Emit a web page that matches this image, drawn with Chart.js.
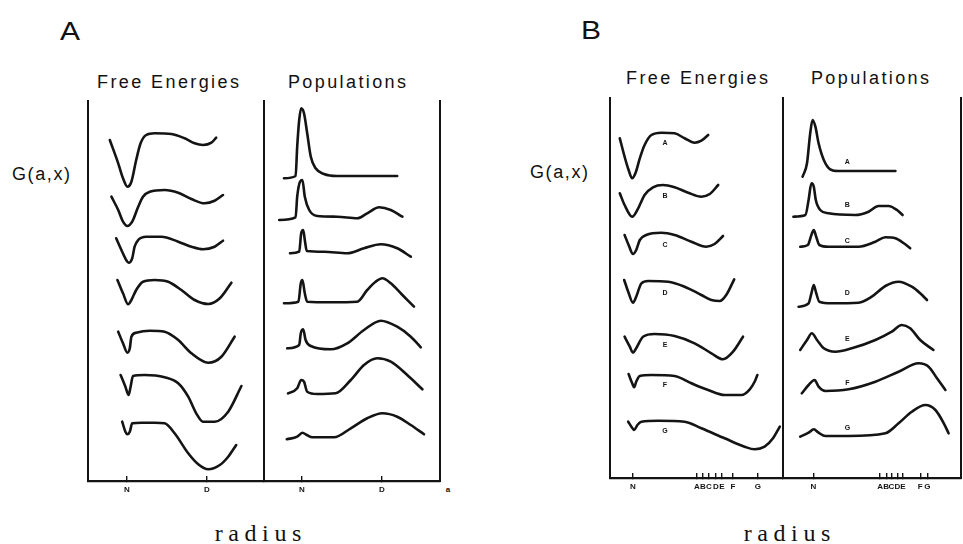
<!DOCTYPE html>
<html>
<head>
<meta charset="utf-8">
<script src="https://cdn.jsdelivr.net/npm/chart.js@4.4.1/dist/chart.umd.min.js"></script>
<style>
  html, body { margin: 0; padding: 0; background: #fff; }
  #wrap { position: relative; width: 963px; height: 544px; overflow: hidden; background: #fff; }
  canvas { position: absolute; }
  .t { position: absolute; transform: translate(-50%, -50%); white-space: nowrap; color: #111;
       font-family: "Liberation Sans", Arial, sans-serif; line-height: 1; }
  .big { font-size: 25px; }
  .head { font-size: 18px; letter-spacing: 2.4px; padding-left: 2.4px; }
  .gax { font-size: 18px; letter-spacing: 1.6px; padding-left: 1.6px; }
  .rad { font-family: "Liberation Serif", "Times New Roman", serif; font-size: 24px; letter-spacing: 5.6px; padding-left: 5.6px; }
  .unit { font-size: 8px; font-weight: bold; }
</style>
</head>
<body>
<div id="wrap">
  <div class="t big" style="left:70px;top:31px;transform:translate(-50%,-50%) scaleX(1.2)">A</div>
  <div class="t big" style="left:591px;top:30px;transform:translate(-50%,-50%) scaleX(1.2)">B</div>
  <div class="t head" style="left:168px;top:82px">Free Energies</div>
  <div class="t head" style="left:347px;top:82px">Populations</div>
  <div class="t head" style="left:697px;top:78px">Free Energies</div>
  <div class="t head" style="left:870px;top:78px">Populations</div>
  <div class="t gax" style="left:41px;top:174px">G(a,x)</div>
  <div class="t gax" style="left:559px;top:172px">G(a,x)</div>
  <div class="t rad" style="left:258px;top:533px">radius</div>
  <div class="t rad" style="left:787px;top:533px">radius</div>
  <div class="t unit" style="left:448px;top:490px">a</div>
  <canvas id="cAfe"></canvas>
  <canvas id="cApop"></canvas>
  <canvas id="cBfe"></canvas>
  <canvas id="cBpop"></canvas>
</div>
<script>
// ---------------- DATA ----------------
// radius in units where N = 1 (and D = 3 in panel A); G and populations in arbitrary units
// Panel A, free energies (relative to each curve's plateau)
const feA1 = [[0.57,-0.6],[0.78,-2.93],[0.9,-4.43],[1.01,-5.27],[1.11,-4.77],[1.23,-2.6],[1.34,-0.93],[1.48,-0.1],[1.69,0.07],[2.11,0],[2.44,-0.43],[2.69,-0.93],[2.9,-1.1],[3.11,-0.87],[3.23,-0.37]];
const feA2 = [[0.61,-0.57],[0.78,-1.9],[0.9,-3.07],[1.01,-3.5],[1.13,-3.07],[1.28,-1.57],[1.4,-0.57],[1.57,-0.07],[1.94,0.1],[2.28,-0.17],[2.61,-0.8],[2.94,-1.23],[3.19,-0.97],[3.4,-0.4]];
const feA3 = [[0.73,-0.13],[0.86,-1.3],[0.98,-2.3],[1.04,-2.57],[1.13,-2.13],[1.19,-0.97],[1.28,-0.3],[1.48,0.03],[1.86,0.03],[2.28,-0.47],[2.61,-0.97],[2.9,-1.23],[3.19,-0.97],[3.4,-0.37]];
const feA4 = [[0.76,0],[0.9,-1.33],[1.03,-2.43],[1.11,-2.0],[1.23,-1.0],[1.4,-0.17],[1.69,0],[2.03,-0.17],[2.36,-1.0],[2.69,-2.0],[3.03,-2.4],[3.32,-1.83],[3.61,-0.27]];
const feA5 = [[0.78,-0.07],[0.9,-1.23],[1.01,-2.17],[1.07,-1.73],[1.11,-0.57],[1.23,-0.17],[1.57,0.03],[1.94,-0.07],[2.28,-0.9],[2.61,-2.23],[3.03,-3.17],[3.36,-2.57],[3.69,-0.57]];
const feA6 = [[0.84,0],[0.96,-1.17],[1.04,-2.0],[1.09,-1.17],[1.15,-0.1],[1.44,0],[1.94,-0.23],[2.28,-0.83],[2.53,-2.17],[2.73,-3.83],[2.9,-4.67],[3.19,-4.67],[3.53,-3.67],[3.86,-1.1]];
const feA7 = [[0.88,0.13],[0.96,-0.87],[1.01,-1.13],[1.07,-0.87],[1.13,-0.03],[1.36,0.03],[1.69,0.03],[1.94,-0.03],[2.19,-1.03],[2.53,-3.03],[2.78,-4.13],[3.03,-4.63],[3.32,-4.2],[3.53,-3.37],[3.73,-2.2]];
// Panel A, populations (relative to each curve's baseline)
const popA1 = [[0.55,-0.23],[0.84,0],[0.88,2.93],[0.93,5.6],[0.98,6.77],[1.05,6.27],[1.13,4.27],[1.22,1.93],[1.34,0.77],[1.55,0.2],[1.88,0],[3.38,0]];
const popA2 = [[0.43,-0.35],[0.84,-0.08],[0.88,1.98],[0.95,3.48],[1.01,3.65],[1.07,1.98],[1.18,0.65],[1.38,0.05],[1.88,-0.02],[2.38,-0.18],[2.63,0.32],[2.93,0.92],[3.22,0.65],[3.51,-0.02]];
const popA3 = [[0.7,-0.13],[0.93,0.03],[0.98,1.87],[1.03,2.2],[1.07,1.2],[1.12,0.1],[1.55,0.03],[2.13,-0.13],[2.55,0.37],[2.97,0.77],[3.38,0.37],[3.72,-0.47]];
const popA4 = [[0.55,-0.13],[0.91,0.03],[0.97,1.87],[1.01,2.2],[1.07,0.87],[1.13,0.03],[1.72,-0.03],[2.38,0.03],[2.63,1.2],[2.84,2.03],[3.01,2.37],[3.22,1.87],[3.51,0.7],[3.8,-0.47]];
const popA5 = [[0.63,-0.03],[0.93,0.3],[0.97,1.47],[1.03,1.87],[1.09,0.8],[1.22,0.2],[1.72,-0.13],[2.13,0.47],[2.55,1.8],[2.97,2.73],[3.38,2.13],[3.72,1.13],[3.97,0.07]];
const popA6 = [[0.65,0.02],[0.88,0.52],[0.98,1.35],[1.05,1.18],[1.13,0.18],[1.38,-0.05],[1.84,0.02],[2.22,1.35],[2.55,2.85],[2.88,3.52],[3.22,3.18],[3.63,1.85],[4.01,0.42]];
const popA7 = [[0.62,-0.18],[0.88,0.08],[1.01,0.48],[1.12,0.25],[1.26,0.02],[1.8,0.02],[2.22,0.92],[2.63,1.92],[3.01,2.42],[3.38,2.08],[3.72,1.25],[4.05,0.32]];
// Panel B, free energies
const feB1 = [[0.67,-0.53],[0.79,-2.37],[0.89,-3.7],[0.98,-4.53],[1.06,-4.03],[1.17,-2.53],[1.29,-1.2],[1.46,-0.2],[1.71,0.03],[2.04,-0.03],[2.29,-0.53],[2.54,-0.97],[2.71,-0.77],[2.88,-0.2]];
const feB2 = [[0.67,-0.73],[0.79,-1.9],[0.98,-3.07],[1.13,-2.23],[1.29,-0.9],[1.5,-0.13],[1.75,0.1],[2.04,-0.13],[2.38,-0.67],[2.71,-1.07],[2.92,-0.8],[3.13,0.1]];
const feB3 = [[0.79,-0.1],[0.89,-1.1],[1.0,-2.0],[1.08,-1.6],[1.17,-0.6],[1.33,-0.1],[1.71,0.13],[2.04,-0.1],[2.46,-0.77],[2.83,-1.27],[3.04,-1.0],[3.25,-0.2]];
const feB4 = [[0.78,0.1],[0.88,-1.07],[1.0,-2.17],[1.08,-1.57],[1.21,-0.23],[1.38,0],[1.88,-0.07],[2.29,-0.57],[2.71,-1.4],[2.96,-1.9],[3.17,-2.0],[3.33,-1.4],[3.53,0.17]];
const feB5 = [[0.79,-0.17],[0.92,-1.17],[1.0,-1.77],[1.08,-1.33],[1.25,-0.17],[1.54,0.1],[2.04,-0.1],[2.54,-0.83],[2.96,-1.83],[3.25,-2.43],[3.5,-1.67],[3.75,-0.17]];
const feB6 = [[0.89,0.15],[0.98,-0.78],[1.03,-1.18],[1.08,-0.62],[1.17,-0.05],[1.46,0.05],[2.04,-0.05],[2.46,-0.78],[2.88,-1.45],[3.29,-1.95],[3.71,-1.95],[3.92,-1.38],[4.05,-0.55],[4.11,0.05]];
const feB7 = [[0.88,-0.02],[0.96,-0.52],[1.03,-0.85],[1.11,-0.35],[1.21,-0.02],[1.63,0.08],[2.29,-0.02],[2.71,-0.68],[3.29,-1.68],[3.79,-2.52],[4.04,-2.78],[4.29,-2.52],[4.5,-1.68],[4.67,-0.52]];
// Panel B, populations
const popB1 = [[0.73,-0.57],[0.84,0.77],[0.92,3.77],[0.98,5.1],[1.05,4.43],[1.13,2.77],[1.26,1.1],[1.42,0.17],[1.63,0],[3.05,0]];
const popB2 = [[0.5,-0.22],[0.8,-0.05],[0.88,1.45],[0.95,3.12],[1.01,2.78],[1.06,1.45],[1.17,0.45],[1.38,0.12],[2.05,-0.05],[2.38,0.28],[2.63,0.85],[2.88,0.85],[3.09,0.45],[3.23,-0.05]];
const popB3 = [[0.67,-0.02],[0.86,0.15],[0.95,1.15],[1.01,1.65],[1.07,0.98],[1.15,0.15],[1.38,-0.02],[2.13,-0.02],[2.55,0.48],[2.8,0.92],[3.05,0.82],[3.26,0.32],[3.42,-0.18]];
const popB4 = [[0.63,-0.37],[0.88,-0.03],[0.95,0.97],[1.01,1.8],[1.06,1.13],[1.15,0.13],[1.46,-0.03],[2.13,0.03],[2.46,0.63],[2.8,1.7],[3.13,2.13],[3.46,1.63],[3.67,0.97],[3.84,0.3]];
const popB5 = [[0.67,0],[0.84,1.0],[0.96,1.67],[1.09,1.0],[1.26,0.17],[1.55,-0.17],[1.96,0.17],[2.55,1.0],[2.96,1.83],[3.21,2.5],[3.42,2.17],[3.67,1.0],[4.0,0]];
const popB6 = [[0.71,-0.23],[0.88,0.6],[1.03,1.1],[1.13,0.43],[1.3,0],[1.88,0.17],[2.55,0.93],[3.13,1.93],[3.63,2.77],[3.88,2.43],[4.09,1.27],[4.3,0.1]];
const popB7 = [[0.67,-0.07],[0.88,0.33],[1.01,0.67],[1.13,0.33],[1.3,0],[1.88,0],[2.8,0.27],[3.13,1.27],[3.46,2.43],[3.8,3.1],[4.05,2.6],[4.26,1.27],[4.38,0.27]];

// tick positions / labels on the radius axes
const ticksA = [1, 3];
const tickLabelsA = ['N', 'D'];
const ticksBfe = [1, 2.6, 2.75, 2.9, 3.07, 3.22, 3.5, 4.12];
const tickLabelsBfe = ['N', 'A', 'B', 'C', 'D', 'E', 'F', 'G'];
const ticksBpop = [1, 2.67, 2.82, 2.95, 3.1, 3.24, 3.67, 3.85];
const tickLabelsBpop = ['N', 'A', 'B', 'C', 'D', 'E', 'F', 'G'];
const curveLabelsB = ['A', 'B', 'C', 'D', 'E', 'F', 'G'];

// ---------------- LAYOUT (vertical stacking of the curves, axis ranges) ----------------
const stackA_fe  = [34.7, 29.0, 24.4, 20.1, 15.0, 10.6, 5.8];
const stackA_pop = [30.5, 26.45, 22.9, 17.9, 13.3, 8.75, 4.35];
const stackB_fe  = [34.5, 29.2, 24.4, 19.7, 14.3, 10.25, 5.65];
const stackB_pop = [30.7, 26.35, 23.15, 17.5, 12.8, 8.7, 4.2];

const INK = '#141414';
const PAD = 5;
const AXIS_H = 22;
const PLOT_H = 381;

function makeChart(id, box, curves, stack, xr, ticks, labels, opts) {
  const cv = document.getElementById(id);
  cv.style.left = (box.left - PAD) + 'px';
  cv.style.top = box.top + 'px';
  const w = box.width + 2 * PAD, h = PLOT_H + AXIS_H;
  cv.style.width = w + 'px'; cv.style.height = h + 'px';
  cv.width = w; cv.height = h;

  const datasets = curves.map((pts, i) => ({
    data: pts.map(p => ({ x: p[0], y: p[1] + stack[i] })),
    borderColor: INK, borderWidth: 2.6, pointRadius: 0, fill: false,
    borderCapStyle: 'round', borderJoinStyle: 'round',
    cubicInterpolationMode: 'monotone', clip: false
  }));

  const frame = (pos) => ({
    position: pos, display: true,
    ticks: { display: false }, grid: { display: false },
    border: { display: true, color: INK, width: 2 },
    afterFit: s => { s.width = 0; }
  });

  const scales = {
    x: {
      type: 'linear', position: 'bottom', min: xr[0], max: xr[1],
      afterBuildTicks: s => { s.ticks = ticks.map(v => ({ value: v })); },
      afterFit: s => { s.height = AXIS_H; },
      ticks: {
        autoSkip: false, maxRotation: 0, padding: 9, color: INK,
        font: { family: 'Liberation Sans', size: 8, weight: 'bold' },
        callback: (v, i) => labels[i]
      },
      grid: { drawOnChartArea: false, drawTicks: true, tickLength: -5, color: INK, lineWidth: 1.4 },
      border: { display: true, color: INK, width: 2.2 }
    },
    y: Object.assign(frame('left'), { min: 0, max: PLOT_H / 10 })
  };
  if (opts.rightFrame) scales.yR = frame('right');

  const plugins = [];
  if (opts.curveLabels) {
    plugins.push({
      id: 'curveLabels',
      afterDatasetsDraw(chart) {
        const ctx = chart.ctx;
        ctx.save();
        ctx.fillStyle = INK;
        ctx.font = 'bold 7px "Liberation Sans"';
        ctx.textAlign = 'center'; ctx.textBaseline = 'middle';
        opts.curveLabels.forEach((t, i) => {
          ctx.fillText(t, chart.scales.x.getPixelForValue(opts.labelX),
                          chart.scales.y.getPixelForValue(stack[i] + opts.labelDy[i]));
        });
        ctx.restore();
      }
    });
  }

  return new Chart(cv, {
    type: 'line',
    data: { datasets },
    options: {
      responsive: false, animation: false, devicePixelRatio: 1,
      layout: { padding: { left: PAD, right: PAD, top: 0, bottom: 0 } },
      plugins: { legend: { display: false }, tooltip: { enabled: false } },
      scales
    },
    plugins
  });
}

makeChart('cAfe',  { left: 88,  top: 100, width: 176 },
  [feA1, feA2, feA3, feA4, feA5, feA6, feA7], stackA_fe, [0.025, 4.425], ticksA, tickLabelsA, {});
makeChart('cApop', { left: 264, top: 100, width: 176 },
  [popA1, popA2, popA3, popA4, popA5, popA6, popA7], stackA_pop, [0.05, 4.45], ticksA, tickLabelsA, { rightFrame: true });
makeChart('cBfe',  { left: 610, top: 97, width: 173 },
  [feB1, feB2, feB3, feB4, feB5, feB6, feB7], stackB_fe, [0.425, 4.75], ticksBfe, tickLabelsBfe,
  { curveLabels: curveLabelsB, labelX: 1.8, labelDy: [-1.0, -1.0, -1.15, -1.2, -1.05, -0.95, -1.0] });
makeChart('cBpop', { left: 783, top: 97, width: 178 },
  [popB1, popB2, popB3, popB4, popB5, popB6, popB7], stackB_pop, [0.24, 4.69], ticksBpop, tickLabelsBpop,
  { rightFrame: true, curveLabels: curveLabelsB, labelX: 1.85, labelDy: [0.9, 0.9, 0.5, 1.0, 1.1, 0.75, 0.8] });
</script>
</body>
</html>
